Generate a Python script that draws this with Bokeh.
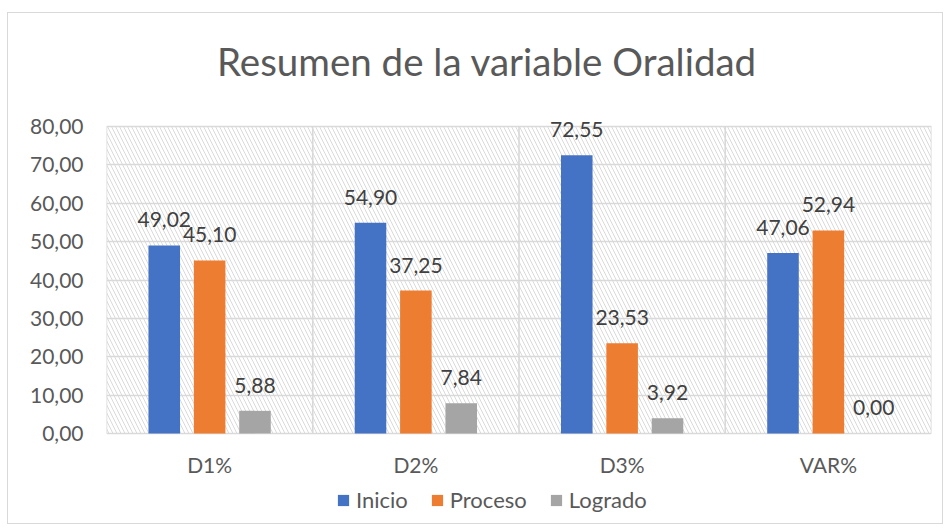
from bokeh.plotting import figure
from bokeh.models import (ColumnDataSource, FactorRange, FixedTicker, CustomJSTickFormatter,
                          BoxAnnotation, LabelSet, Label, Legend, LegendItem)
from bokeh.transform import dodge
from bokeh.core.properties import value
from bokeh.embed import file_html
from bokeh.resources import INLINE

categories = ["D1%", "D2%", "D3%", "VAR%"]
inicio = [49.02, 54.90, 72.55, 47.06]
proceso = [45.10, 37.25, 23.53, 52.94]
logrado = [5.88, 7.84, 3.92, 0.00]
series_names = ["Inicio", "Proceso", "Logrado"]
y_ticks = [0, 10, 20, 30, 40, 50, 60, 70, 80]
title_text = "Resumen de la variable Oralidad"

colors = ["#4472C4", "#ED7D31", "#A5A5A5"]
offsets = [-0.22, 0.0, 0.22]
FONT = "Lato"
GRID = "#d9d9d9"
Y_MIN, Y_MAX = y_ticks[0], y_ticks[-1]

def fmt(v):
    return f"{v:.2f}".replace(".", ",")

# the frame spans the whole canvas height so the title, category labels and legend sit inside it
p = figure(x_range=FactorRange(*categories), y_range=(-23.5, 109.5), width=934, height=510,
           output_backend="svg", toolbar_location=None,
           min_border_left=98, min_border_right=11, min_border_top=0, min_border_bottom=0)
p.margin = (13, 0, 0, 8)
p.styles = {"outline": "1px solid #d9d9d9"}

p.outline_line_color = None
p.background_fill_color = "white"

title = Label(x=380.5, y=463, x_units="screen", y_units="screen", text=title_text,
              text_align="center", text_baseline="alphabetic", text_font=FONT,
              text_font_size="38.5px", text_color="#595959")
p.add_layout(title)

hatch = BoxAnnotation(bottom=Y_MIN, top=Y_MAX, fill_color="white", fill_alpha=1.0, line_color=None,
                      hatch_pattern="\\", hatch_color="#dadada", hatch_scale=8,
                      hatch_weight=1.0, level="image")
p.add_layout(hatch)

p.ygrid.ticker = FixedTicker(ticks=y_ticks)
p.ygrid.grid_line_color = GRID
p.ygrid.grid_line_width = 1.3
p.xgrid.grid_line_color = None

vsrc = ColumnDataSource(dict(cat=categories, y0=[Y_MIN] * len(categories), y1=[Y_MAX] * len(categories)))
lsrc = ColumnDataSource(dict(cat=categories[-1:], y0=[Y_MIN], y1=[Y_MAX]))
for off, src_ in ((-0.5, vsrc), (0.5, lsrc)):
    vg = p.segment(x0=dodge("cat", off, range=p.x_range), x1=dodge("cat", off, range=p.x_range),
                   y0="y0", y1="y1", source=src_, line_color=GRID, line_width=1.6)
    vg.level = "underlay"

src = ColumnDataSource(dict(cat=categories, Inicio=inicio, Proceso=proceso, Logrado=logrado,
                            Inicio_t=[fmt(v) for v in inicio],
                            Proceso_t=[fmt(v) for v in proceso],
                            Logrado_t=[fmt(v) for v in logrado],
                            base=[Y_MIN] * len(categories)))

items = []
for name, col, off in zip(series_names, colors, offsets):
    r = p.vbar(x=dodge("cat", off, range=p.x_range), top=name, bottom="base", width=0.153,
               source=src, fill_color=col, line_color=None)
    items.append(LegendItem(label=name, renderers=[r]))
    lbl = LabelSet(x=dodge("cat", off, range=p.x_range), y=name, text=name + "_t", source=src,
                   y_offset=18, text_align="center", text_baseline="alphabetic",
                   text_font=value(FONT), text_font_size="21px", text_color="#404040")
    p.add_layout(lbl)

# category axis labels
cat_labels = LabelSet(x="cat", y="base", text="cat", source=src, y_offset=-40,
                      text_align="center", text_baseline="alphabetic",
                      text_font=value(FONT), text_font_size="21px", text_color="#595959")
p.add_layout(cat_labels)
p.xaxis.visible = False

p.yaxis.ticker = FixedTicker(ticks=y_ticks)
p.yaxis.formatter = CustomJSTickFormatter(code="return tick.toFixed(2).replace('.', ',');")
p.yaxis.axis_line_color = None
p.yaxis.major_tick_line_color = None
p.yaxis.minor_tick_line_color = None
p.yaxis.major_tick_out = 0
p.yaxis.major_label_standoff = 23
p.yaxis.major_label_text_font = FONT
p.yaxis.major_label_text_font_size = "21px"
p.yaxis.major_label_text_color = "#595959"

legend = Legend(items=items, orientation="horizontal", location=(230, 10),
                glyph_width=14, glyph_height=14, label_standoff=6, spacing=22,
                padding=0, margin=0, border_line_color=None, background_fill_alpha=0,
                label_text_font=FONT, label_text_font_size="22px", label_text_color="#595959")
p.add_layout(legend, "center")

open("out.html", "w").write(file_html(p, INLINE))
